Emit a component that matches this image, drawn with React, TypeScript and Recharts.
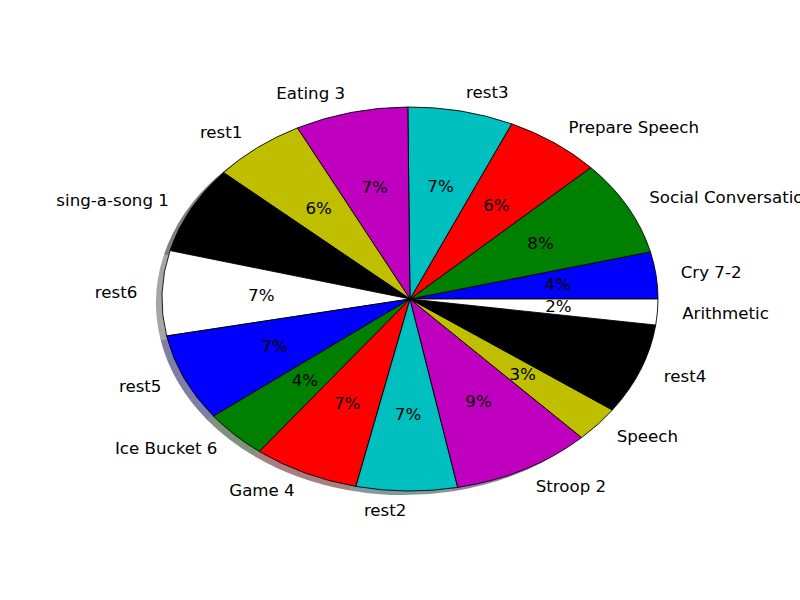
import React from 'react';
import { PieChart, Pie, Cell } from 'recharts';

const labels = [
  'Cry 7-2',
  'Social Conversation',
  'Prepare Speech',
  'rest3',
  'Eating 3',
  'rest1',
  'sing-a-song 1',
  'rest6',
  'rest5',
  'Ice Bucket 6',
  'Game 4',
  'rest2',
  'Stroop 2',
  'Speech',
  'rest4',
  'Arithmetic',
];
const durations = [142, 290, 226, 247, 265, 218, 266, 257, 265, 150, 248, 237, 327, 109, 275, 78];

// matplotlib classic cycle: b g r c m y k w
const colorCycle = ['#0000ff', '#008000', '#ff0000', '#00bfbf', '#bf00bf', '#bfbf00', '#000000', '#ffffff'];

const CX = 410;
const CY = 299;
const R = 248;
const RY = 192;
const SCALE_Y = RY / R;
const FONT = '"DejaVu Sans", sans-serif';

const data = labels.map((name, i) => ({ name, value: durations[i] }));

const shade = (hex: string) => {
  const n = parseInt(hex.slice(1), 16);
  const r = Math.round(((n >> 16) & 255) * 0.3);
  const g = Math.round(((n >> 8) & 255) * 0.3);
  const b = Math.round((n & 255) * 0.3);
  return `rgb(${r},${g},${b})`;
};

const renderLabel = (props: any) => {
  const { midAngle, percent, index } = props;
  const rad = (midAngle * Math.PI) / 180;
  const cos = Math.cos(rad);
  const sin = Math.sin(rad);
  const lx = CX + 1.1 * R * cos;
  const ly = CY - 1.1 * RY * sin;
  const px = CX + 0.6 * R * cos;
  const py = CY - 0.6 * RY * sin;
  return (
    <g key={`lbl-${index}`}>
      <text
        x={lx}
        y={ly}
        textAnchor={cos >= 0 ? 'start' : 'end'}
        dominantBaseline="central"
        fontFamily={FONT}
        fontSize={16.67}
        fill="#000"
      >
        {labels[index]}
      </text>
      <text
        x={px}
        y={py}
        textAnchor="middle"
        dominantBaseline="central"
        fontFamily={FONT}
        fontSize={16.67}
        fill="#000"
      >
        {`${Math.round(percent * 100)}%`}
      </text>
    </g>
  );
};

export default function App() {
  return (
    <div style={{ position: 'absolute', left: 0, top: 0, width: 800, height: 600, background: '#fff' }}>
      <style>{`
        .recharts-sector {
          transform-box: view-box;
          transform-origin: ${CX}px ${CY}px;
          transform: scale(1, ${SCALE_Y});
        }
      `}</style>
      <PieChart width={800} height={600} margin={{ top: 0, right: 0, bottom: 0, left: 0 }}>
        {/* shadow */}
        <Pie
          data={data}
          dataKey="value"
          cx={CX - 6}
          cy={CY + 4 / SCALE_Y}
          outerRadius={R}
          startAngle={0}
          endAngle={360}
          stroke="none"
          isAnimationActive={false}
          label={false}
          labelLine={false}
        >
          {data.map((_, i) => (
            <Cell key={i} fill={shade(colorCycle[i % 8])} fillOpacity={0.5} />
          ))}
        </Pie>
        <Pie
          data={data}
          dataKey="value"
          cx={CX}
          cy={CY}
          outerRadius={R}
          startAngle={0}
          endAngle={360}
          stroke="#000"
          strokeWidth={1}
          isAnimationActive={false}
          label={renderLabel}
          labelLine={false}
        >
          {data.map((_, i) => (
            <Cell key={i} fill={colorCycle[i % 8]} />
          ))}
        </Pie>
      </PieChart>
    </div>
  );
}
